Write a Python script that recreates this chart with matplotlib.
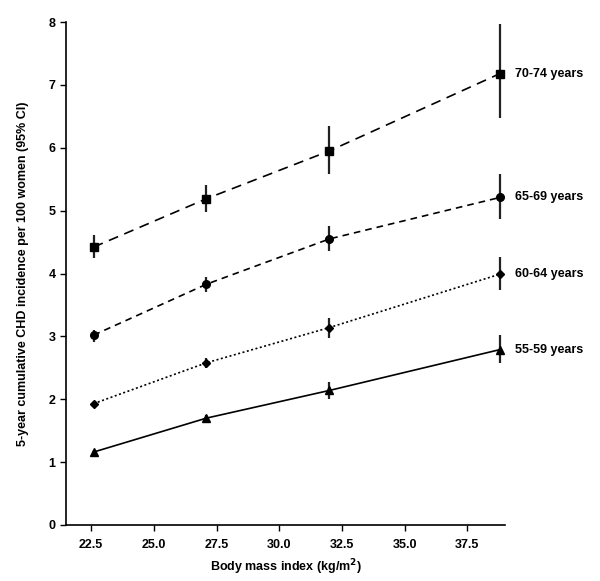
import numpy as np
import matplotlib.pyplot as plt

plt.rcParams['font.family'] = ['Liberation Sans', 'DejaVu Sans']
plt.rcParams['font.weight'] = 'bold'

# BMI category means (x)
bmi = [22.6, 27.1, 32.0, 38.8]

# 5-year cumulative CHD incidence per 100 women, with 95% CI
groups = ['70-74 years', '65-69 years', '60-64 years', '55-59 years']
inc_7074 = [4.42, 5.19, 5.95, 7.18]
lo_7074 = [4.24, 4.98, 5.58, 6.48]
hi_7074 = [4.61, 5.41, 6.35, 7.97]

inc_6569 = [3.02, 3.83, 4.55, 5.21]
lo_6569 = [2.91, 3.71, 4.36, 4.86]
hi_6569 = [3.10, 3.94, 4.76, 5.59]

inc_6064 = [1.93, 2.58, 3.14, 3.99]
lo_6064 = [1.89, 2.49, 2.98, 3.74]
hi_6064 = [1.97, 2.66, 3.30, 4.27]

inc_5559 = [1.16, 1.70, 2.14, 2.79]
lo_5559 = [1.12, 1.65, 2.01, 2.58]
hi_5559 = [1.20, 1.75, 2.28, 3.02]

series = [
    (inc_7074, lo_7074, hi_7074, 's', (0, (6, 4))),
    (inc_6569, lo_6569, hi_6569, 'o', (0, (4, 3))),
    (inc_6064, lo_6064, hi_6064, 'D', (0, (1.2, 1.5))),
    (inc_5559, lo_5559, hi_5559, '^', '-'),
]

fig = plt.figure(figsize=(6, 5.81), dpi=100)
ax = fig.add_axes([0.11, 0.0964, 0.7317, 0.8657])

for name, (y, lo, hi, mk, ls) in zip(groups, series):
    y = np.array(y)
    err = [y - np.array(lo), np.array(hi) - y]
    ax.errorbar(bmi, y, yerr=err, fmt='none', ecolor='#222222', elinewidth=1.6, capsize=0)
    ms = 4.5 if mk == 'D' else 5.5
    ax.plot(bmi, y, color='black', linestyle=ls, linewidth=1.2, marker=mk, markersize=ms)
    ax.text(39.4, y[-1], name, fontsize=9, fontweight='bold', va='center', ha='left',
            clip_on=False)

ax.set_xlim(21.5, 39)
ax.set_ylim(0, 8)
ax.set_xticks([22.5, 25.0, 27.5, 30.0, 32.5, 35.0, 37.5])
ax.set_xticklabels(['22.5', '25.0', '27.5', '30.0', '32.5', '35.0', '37.5'])
ax.set_yticks(range(0, 9))
ax.tick_params(labelsize=9, direction='out', length=4, width=1)
ax.tick_params(axis='x', pad=6)
for lab in ax.get_xticklabels() + ax.get_yticklabels():
    lab.set_fontweight('bold')
ax.spines['top'].set_visible(False)
ax.spines['right'].set_visible(False)
ax.spines['left'].set_linewidth(1.2)
ax.spines['bottom'].set_linewidth(1.2)

ax.set_xlabel('Body mass index (kg/m$^\\mathbf{2}$)', fontsize=9, fontweight='bold',
              labelpad=5)
ax.set_ylabel('5-year cumulative CHD incidence per 100 women (95% CI)', fontsize=9,
              fontweight='bold', labelpad=14)

fig.savefig('out.png', dpi=100)
